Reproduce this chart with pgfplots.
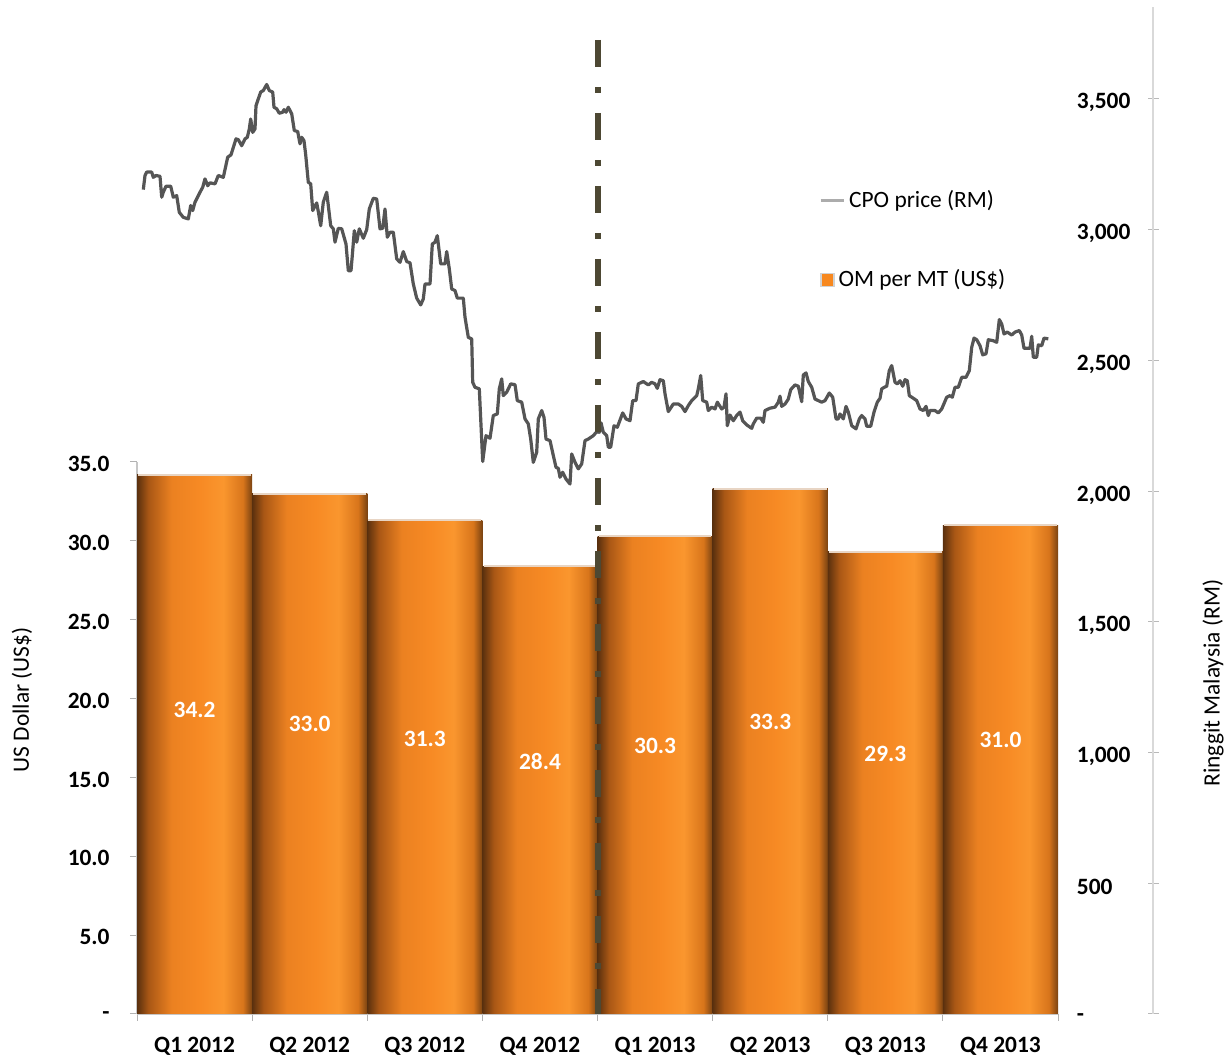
\documentclass[border=0pt]{standalone}
\usepackage{pgfplots}
\pgfplotsset{compat=1.18}
\usepackage{fontspec}
\setmainfont{Carlito}
\definecolor{cpoline}{HTML}{555555}
\definecolor{dashcol}{HTML}{4D4833}
\definecolor{omorange}{HTML}{F7881F}
\definecolor{tophl}{HTML}{E8D5C4}
\definecolor{sA}{HTML}{5A300E}
\definecolor{sB}{HTML}{A95715}
\definecolor{sC}{HTML}{EB8121}
\definecolor{sD}{HTML}{F78A24}
\definecolor{sE}{HTML}{FA962E}
\definecolor{sF}{HTML}{D8751B}
\definecolor{sG}{HTML}{7A4312}
\pgfdeclarehorizontalshading{barshade}{100bp}{color(0bp)=(sA); color(25bp)=(sA); color(30bp)=(sB); color(40bp)=(sC); color(52.5bp)=(sD); color(62.5bp)=(sE); color(71bp)=(sF); color(75bp)=(sG); color(100bp)=(sG)}
\newcommand{\chartfont}{\fontsize{11.7}{14}\selectfont}
\pgfplotsset{omBar/.style={ybar, bar width=57.5625pt, bar shift=0pt, draw=none, shading=barshade, forget plot}}
\begin{document}
\begin{tikzpicture}[font=\chartfont]
\useasboundingbox (0,0) rectangle (612.5pt,529.5pt);
% ---------------- bar axis (US$) ----------------
\begin{axis}[
  at={(68.5pt,22.5pt)}, anchor=south west,
  scale only axis, width=460.5pt, height=276pt,
  xmin=-0.5, xmax=7.5, ymin=0, ymax=35,
  axis x line*=bottom, axis y line*=left,
  axis line style={draw=gray!45, line width=0.8pt},
  xtick={0,...,7},
  xticklabels={Q1 2012,Q2 2012,Q3 2012,Q4 2012,Q1 2013,Q2 2013,Q3 2013,Q4 2013},
  major x tick style={draw=none},
  minor xtick={-0.5,0.5,...,7.5},
  minor tick length=3.5pt,
  minor x tick style={draw=gray!60, line width=0.5pt},
  ytick={0,5,...,35},
  yticklabels={-\hspace{3.5pt},5.0,10.0,15.0,20.0,25.0,30.0,35.0},
  major tick length=3.5pt, tick align=outside,
  y tick style={draw=gray!60, line width=0.5pt},
  every tick label/.append style={font=\chartfont\bfseries},
  yticklabel style={anchor=east, inner sep=0pt, xshift=-10pt, yshift=-1pt},
  xticklabel style={anchor=north, inner sep=0pt, yshift=-8pt},
  ylabel={US Dollar (US\$)},
  ylabel style={at={(-0.1249,0.569)}, anchor=center, font=\chartfont},
  legend style={draw=none, fill=none, at={(0.7416,1.33)}, anchor=west, inner sep=0pt, font=\chartfont},
  legend cell align=left,
  clip=false,
]
\addplot[omBar] coordinates {(0,34.2)};
\addplot[omBar] coordinates {(1,33.0)};
\addplot[omBar] coordinates {(2,31.3)};
\addplot[omBar] coordinates {(3,28.4)};
\addplot[omBar] coordinates {(4,30.3)};
\addplot[omBar] coordinates {(5,33.3)};
\addplot[omBar] coordinates {(6,29.3)};
\addplot[omBar] coordinates {(7,31.0)};
% light rim on the top of each bar
\addplot[draw=none, mark=none, forget plot,
  error bars/.cd, x dir=both, x explicit, error mark=none,
  error bar style={color=tophl, line width=1pt}]
  coordinates {(0,34.2) +- (0.49,0) (1,33.0) +- (0.49,0) (2,31.3) +- (0.49,0) (3,28.4) +- (0.49,0)
               (4,30.3) +- (0.49,0) (5,33.3) +- (0.49,0) (6,29.3) +- (0.49,0) (7,31.0) +- (0.49,0)};
\addlegendimage{legend image code/.code={\draw[line width=0.6pt, draw=gray!35, fill=omorange] (0pt,-3.25pt) rectangle (6.5pt,3.25pt);}}
\addlegendentry{OM per MT (US\$)}
\addplot[draw=none, mark=none, forget plot, nodes near coords, point meta=explicit symbolic,
  nodes near coords style={anchor=center, text=white, font=\chartfont\bfseries}]
  table[meta=lab] {
x y lab
0 19.28 34.2
1 18.39 33.0
2 17.44 31.3
3 15.98 28.4
4 16.99 30.3
5 18.51 33.3
6 16.49 29.3
7 17.37 31.0
};
\end{axis}
% ---------------- line axis (RM) ----------------
\begin{axis}[
  at={(68.5pt,22.5pt)}, anchor=south west,
  scale only axis, width=508pt, height=503.3pt,
  xmin=0, xmax=1016, ymin=0, ymax=3850,
  axis x line=none, axis y line*=right,
  y axis line style={draw=gray!30, line width=1pt},
  xtick=\empty,
  ytick={0,500,...,3500},
  yticklabels={-,500,{1,000},{1,500},{2,000},{2,500},{3,000},{3,500}},
  major tick length=5.5pt, tick align=center,
  y tick style={draw=gray!55, line width=0.5pt},
  every tick label/.append style={font=\chartfont\bfseries},
  yticklabel style={anchor=west, inner sep=0pt, xshift=-41pt, yshift=-2pt},
  ylabel={Ringgit Malaysia (RM)},
  ylabel style={at={(1.059,0.3287)}, anchor=center, font=\chartfont},
  legend style={draw=none, fill=none, at={(0.671,0.8083)}, anchor=west, inner sep=0pt, font=\chartfont},
  legend cell align=left,
]
\addlegendimage{legend image code/.code={\draw[line width=1.5pt, color=gray!65] (0pt,0pt) -- (11.5pt,0pt);}}
\addlegendentry{CPO price (RM)}
\addplot[color=cpoline, line width=1.6pt, line join=round, mark=none, forget plot] coordinates {
(6.3,3153) (8,3207) (9.7,3220) (14.7,3220) (16.3,3200) (19,3207) (23,3204) (24.7,3124) (26.3,3143) (29,3166)
(33.7,3166) (36.3,3124) (39.7,3130) (42.3,3066) (46.3,3047) (51.3,3041) (53.7,3092) (55.7,3073) (58,3105) (63,3143)
(65.7,3162) (68,3194) (70.7,3168) (73,3179) (78,3175) (81.3,3207) (86.3,3200) (90.7,3277) (94,3286) (99,3347)
(101.3,3344) (104.7,3321) (108,3347) (110.3,3353) (112.3,3385) (113.7,3423) (115.7,3372) (118,3385) (119,3474) (121.3,3500)
(123.7,3526) (126.3,3532) (129.7,3555) (132.3,3532) (135.7,3526) (137,3468) (139.7,3462) (142.3,3445) (145.7,3449) (147,3459)
(149,3449) (151.3,3468) (154.7,3443) (157.3,3379) (160.7,3375) (163,3328) (164.7,3353) (167,3340) (168.7,3286) (171.3,3181)
(173.7,3175) (175.7,3073) (179.7,3102) (181.3,3069) (183.7,3015) (186.3,3105) (189.7,3143) (193.7,3015) (196.3,3003) (198,2952)
(201.3,3005) (204.7,3003) (209,2945) (211.3,2843) (214,2843) (215.3,2901) (217.3,2996) (219.7,2952) (222.3,3003) (226.3,2967)
(229.7,3000) (232.3,3079) (236.3,3120) (239.7,3117) (243,3003) (245.7,3005) (248,3079) (250.3,2971) (253,2990) (256.3,2990)
(259.7,2888) (263,2875) (266.3,2916) (269.7,2878) (273,2873) (276.3,2792) (279.7,2738) (283.7,2712) (286.3,2735) (288,2792)
(293,2792) (295.3,2945) (298,2952) (300.3,2977) (303.7,2869) (308,2869) (309.7,2916) (312.3,2850) (314.7,2773) (318,2767)
(320.3,2738) (326.3,2738) (328,2665) (331.3,2588) (334.7,2582) (335.7,2416) (338,2397) (342.3,2391) (345.7,2113) (349,2212)
(353,2202) (356.3,2289) (360.3,2295) (362.3,2391) (364.7,2429) (366.3,2365) (369.7,2378) (373.7,2410) (378,2407) (380.3,2346)
(384.7,2340) (388,2276) (391.3,2257) (393.7,2199) (396.3,2110) (399.7,2149) (401.3,2276) (404.7,2308) (407,2282) (409,2199)
(413,2193) (416.3,2136) (419,2091) (421.3,2087) (423,2053) (425.7,2072) (429,2046) (433,2027) (434.7,2142) (438,2110)
(441.3,2085) (444.7,2104) (448,2193) (451.3,2199) (456.3,2212) (459.7,2227) (462.3,2225) (464,2261) (466.3,2225) (469.7,2212)
(471.3,2168) (473.7,2168) (477,2250) (480.3,2244) (485.7,2299) (489,2276) (493,2269) (495.7,2346) (499,2346) (501.3,2410)
(506.3,2419) (511.3,2406) (514.7,2416) (518,2410) (520.3,2393) (523,2426) (526.3,2422) (528,2372) (531.3,2304) (536.3,2333)
(541.3,2333) (544.7,2324) (548,2304) (551.3,2327) (554.7,2346) (559.7,2365) (561.3,2391) (563.7,2442) (565.7,2346) (569.7,2340)
(571.3,2308) (574.7,2321) (578,2314) (580.3,2340) (584.7,2314) (587,2321) (589,2372) (590.3,2250) (593,2291) (596.3,2269)
(599.7,2289) (603,2302) (605.7,2269) (609.7,2253) (614.7,2240) (616.3,2257) (619.7,2279) (623.7,2279) (626.3,2263) (628,2308)
(633,2317) (638,2321) (641.3,2340) (643,2363) (644.7,2324) (648,2333) (651.3,2352) (653.7,2388) (658,2406) (661.3,2401)
(664.7,2342) (666.3,2444) (669,2452) (671.3,2419) (674.7,2397) (678,2352) (681.3,2346) (684.7,2340) (688,2346) (692.3,2375)
(695.7,2359) (699,2276) (701.3,2276) (703,2295) (706.3,2276) (709,2324) (711.3,2302) (714.7,2250) (719,2238) (722.3,2276)
(724.7,2289) (728,2276) (729.7,2248) (733.7,2248) (737,2302) (740.3,2340) (743,2355) (744.7,2391) (747.3,2397) (749.7,2401)
(752.3,2461) (754.7,2480) (758,2416) (760.3,2410) (763,2422) (765.7,2401) (768,2426) (770.3,2422) (772.3,2365) (776.3,2355)
(779.7,2346) (783,2314) (786.3,2308) (789,2324) (791.3,2289) (793,2308) (798,2308) (801.3,2299) (804.7,2314) (809.7,2359)
(813,2365) (815.3,2359) (818,2397) (821.3,2397) (824.7,2435) (829,2435) (832.3,2461) (834.7,2550) (837,2585) (839.7,2579)
(843,2556) (845.7,2521) (849,2525) (851.3,2579) (856.3,2575) (859.7,2569) (862.3,2656) (864.7,2639) (867,2601) (870.3,2608)
(874.7,2597) (878,2608) (882.3,2614) (884.7,2597) (887,2546) (893,2546) (894.7,2592) (896.3,2512) (899.7,2512) (901.3,2559)
(904.7,2556) (907,2585) (911.3,2582)
};
\addplot[color=dashcol, line width=2.8pt, dash pattern=on 13.5pt off 10pt on 3pt off 10pt, mark=none, forget plot]
  coordinates {(461,3726) (461,0)};
\end{axis}
\end{tikzpicture}
\end{document}
